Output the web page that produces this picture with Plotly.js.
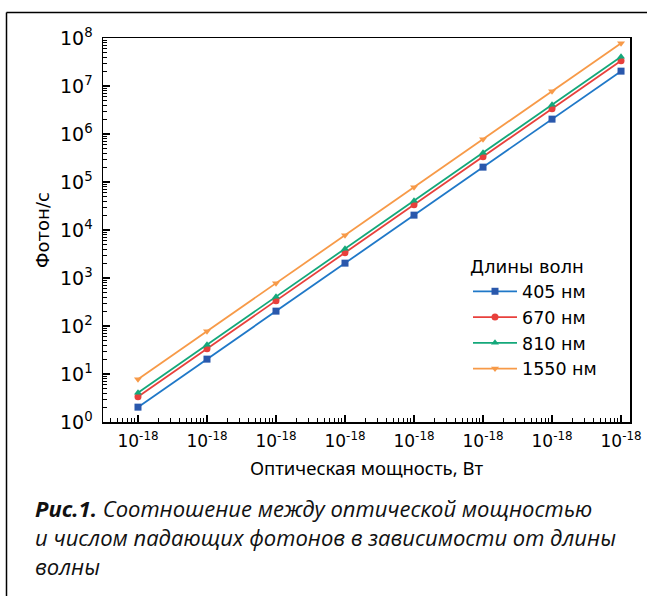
<!DOCTYPE html>
<html>
<head>
<meta charset="utf-8">
<script src="https://cdn.plot.ly/plotly-3.0.1.min.js"></script>
<style>
  html, body { margin: 0; padding: 0; background: #fff; }
  #chart { width: 647px; height: 596px; }
</style>
</head>
<body>
<div id="chart"></div>
<script>
// ---- data ----
const powerW = [1e-18, 1e-17, 1e-16, 1e-15, 1e-14, 1e-13, 1e-12, 1e-11];
const photons405 = [2.04, 20.4, 204, 2040, 2.04e4, 2.04e5, 2.04e6, 2.04e7];
const photons670 = [3.37, 33.7, 337, 3370, 3.37e4, 3.37e5, 3.37e6, 3.37e7];
const photons810 = [4.08, 40.8, 408, 4080, 4.08e4, 4.08e5, 4.08e6, 4.08e7];
const photons1550 = [7.8, 78, 780, 7800, 7.8e4, 7.8e5, 7.8e6, 7.8e7];
const seriesNames = ['405 нм', '670 нм', '810 нм', '1550 нм'];
const xTickLabels = ['10<sup>-18</sup>', '10<sup>-18</sup>', '10<sup>-18</sup>', '10<sup>-18</sup>',
                     '10<sup>-18</sup>', '10<sup>-18</sup>', '10<sup>-18</sup>', '10<sup>-18</sup>'];
const yTickVals = [1, 10, 100, 1e3, 1e4, 1e5, 1e6, 1e7, 1e8];
const yTickLabels = ['10<sup>0</sup>', '10<sup>1</sup>', '10<sup>2</sup>', '10<sup>3</sup>', '10<sup>4</sup>',
                     '10<sup>5</sup>', '10<sup>6</sup>', '10<sup>7</sup>', '10<sup>8</sup>'];
const legendTitle = 'Длины волн';
const xTitle = 'Оптическая мощность, Вт';
const yTitle = 'Фотон/с';
const captionLines = [
  '<b>Рис.1.</b> Соотношение между оптической мощностью',
  'и числом падающих фотонов в зависимости от длины',
  'волны'
];

// ---- styling ----
const lineColors = ['#1f78c8', '#e8403c', '#14a87a', '#f79a48'];
const markerColors = ['#2a58ac', '#e8403c', '#14a87a', '#f79a48'];
const symbols = ['square', 'circle', 'triangle-up', 'triangle-down'];
const seriesData = [photons405, photons670, photons810, photons1550];

const traces = seriesData.map((ys, i) => ({
  type: 'scatter',
  mode: 'lines+markers',
  x: powerW,
  y: ys,
  name: seriesNames[i],
  line: { color: lineColors[i], width: 1.8 },
  marker: { color: markerColors[i], symbol: symbols[i], size: 7 }
}));

function logMinor(fromExp, toExp) {
  const v = [];
  for (let e = fromExp; e < toExp; e++) {
    for (let m = 2; m <= 9; m++) v.push(m * Math.pow(10, e));
  }
  return v;
}

// plot area in pixels
const L = 103, R = 630, T = 38, B = 422, W = 647, H = 596;
const px = x => (x - L) / (R - L);
const py = y => (B - y) / (B - T);

const DJ = 'DejaVu Sans';

const layout = {
  width: W, height: H,
  margin: { l: L, r: W - R, t: T, b: H - B, pad: 0 },
  paper_bgcolor: '#fff',
  plot_bgcolor: '#fff',
  showlegend: true,
  xaxis: {
    type: 'log',
    range: [-18.507, -10.87],
    tickmode: 'array',
    tickvals: powerW,
    ticktext: xTickLabels,
    ticks: 'inside', ticklen: 7, tickwidth: 1.2, tickcolor: '#000',
    ticklabelstandoff: 3,
    minor: { tickmode: 'array', tickvals: logMinor(-19, -10), ticks: 'inside', ticklen: 4, tickwidth: 1, tickcolor: '#000', showgrid: false },
    showline: true, linecolor: '#000', linewidth: 1.5, mirror: true,
    showgrid: false, zeroline: false,
    tickfont: { family: DJ, size: 17, color: '#000' },
    title: { text: xTitle, font: { family: 'Noto Sans', size: 18.5, color: '#000' }, standoff: 12 },
    automargin: false
  },
  yaxis: {
    type: 'log',
    range: [0, 8],
    tickmode: 'array',
    tickvals: yTickVals,
    ticktext: yTickLabels,
    ticks: 'inside', ticklen: 7, tickwidth: 1.2, tickcolor: '#000',
    ticklabelstandoff: 5,
    minor: { tickmode: 'array', tickvals: logMinor(0, 8), ticks: 'inside', ticklen: 4, tickwidth: 1, tickcolor: '#000', showgrid: false },
    showline: true, linecolor: '#000', linewidth: 1.5, mirror: true,
    showgrid: false, zeroline: false,
    tickfont: { family: DJ, size: 19, color: '#000' },
    title: { text: yTitle, font: { family: DJ, size: 18, color: '#000' }, standoff: 5 },
    automargin: false
  },
  legend: {
    x: px(468), y: py(250), xanchor: 'left', yanchor: 'top',
    bgcolor: 'rgba(0,0,0,0)',
    itemwidth: 44,
    font: { family: DJ, size: 17.5, color: '#000' },
    title: { text: legendTitle, side: 'top', font: { family: DJ, size: 18, color: '#000' } },
    tracegroupgap: 0
  },
  shapes: [
    { type: 'line', xref: 'paper', yref: 'paper', x0: px(6.5), x1: px(700), y0: py(12.5), y1: py(12.5), line: { color: '#000', width: 1.5 } },
    { type: 'line', xref: 'paper', yref: 'paper', x0: px(6.5), x1: px(6.5), y0: py(12.5), y1: py(700), line: { color: '#000', width: 1.5 } }
  ],
  annotations: captionLines.map((t, i) => ({
    xref: 'paper', yref: 'paper',
    x: px(33), y: py(508 + i * 29),
    xanchor: 'left', yanchor: 'middle', align: 'left',
    showarrow: false,
    text: '<i>' + t + '</i>',
    font: { family: 'Open Sans', size: 22, color: '#111' }
  }))
};

Plotly.newPlot('chart', traces, layout, { displayModeBar: false, staticPlot: true });
</script>
</body>
</html>
